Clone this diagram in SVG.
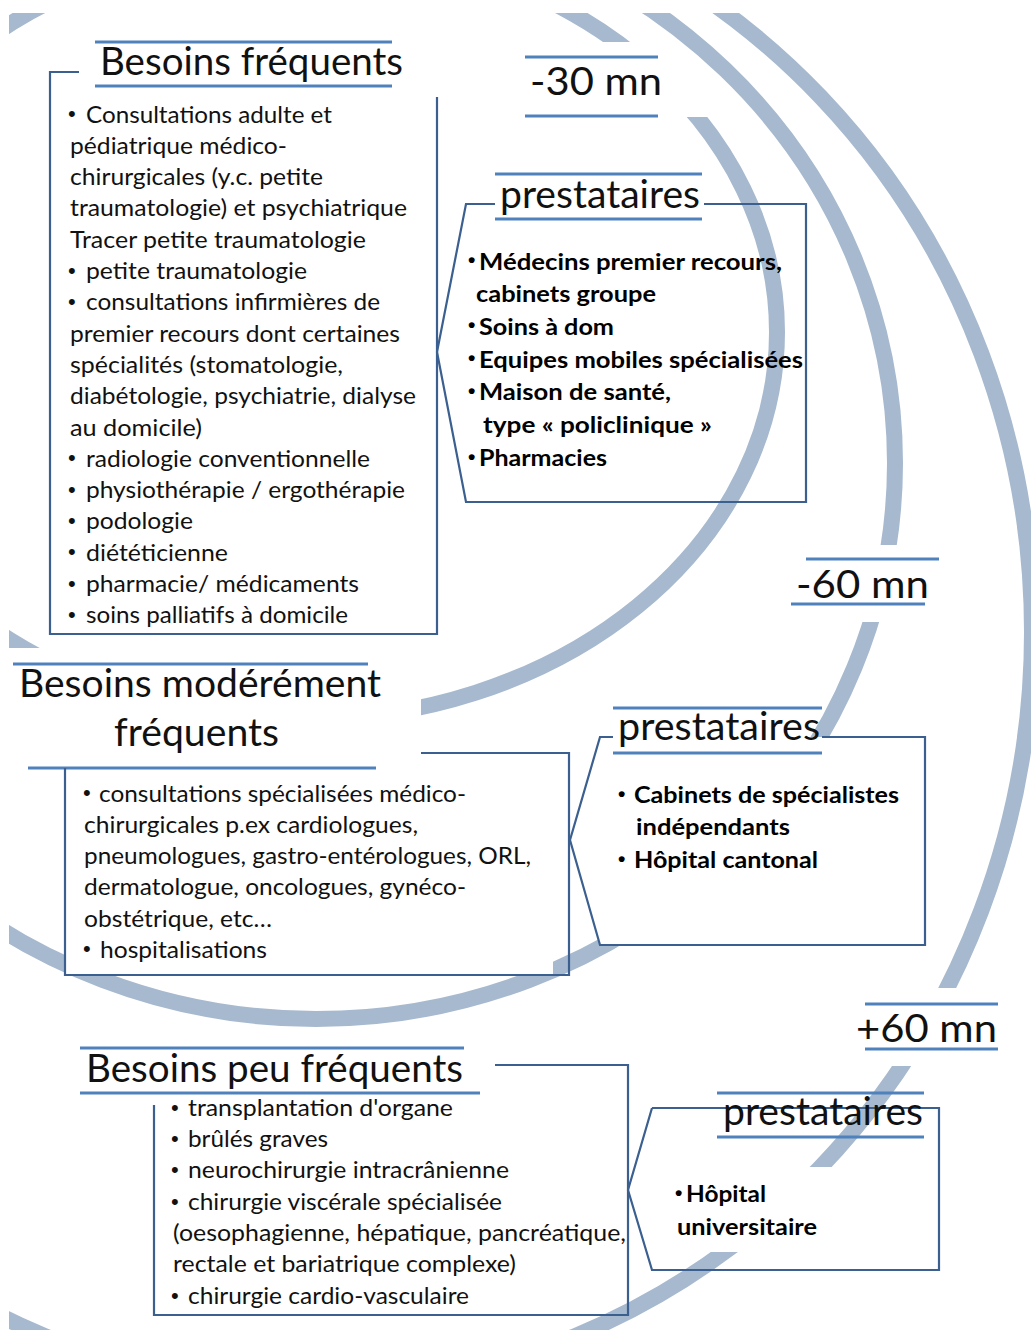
<svg xmlns="http://www.w3.org/2000/svg" width="1031" height="1330" viewBox="0 0 1031 1330">
<style>
.arc{fill:none;stroke:#a7b9cf;stroke-width:16}
.tl{stroke:#4f81bd;stroke-width:3;fill:none}
.bx{fill:none;stroke:#3b5f8f;stroke-width:2.2}
text{font-family:Lato,"Open Sans","Liberation Sans",sans-serif;fill:#111}
.ti{font-size:38px}
.bd{font-size:23.5px}
.bb{font-size:23.5px;font-weight:700;fill:#000}
text.bu{font-family:"Liberation Sans",Arial,sans-serif;font-size:22px}
text.bv{font-family:"Liberation Sans",Arial,sans-serif;font-size:21px;font-weight:700;fill:#000}
</style>
<defs>
<mask id="mA" maskUnits="userSpaceOnUse" x="0" y="0" width="1031" height="1330">
<rect x="9" y="13" width="1022" height="1317" fill="#fff"/>
<rect x="480" y="42" width="250" height="75" fill="#000"/>
<rect x="0" y="648" width="421" height="200" fill="#000"/>
</mask>
<mask id="mB" maskUnits="userSpaceOnUse" x="0" y="0" width="1031" height="1330">
<rect x="9" y="13" width="1022" height="1317" fill="#fff"/>
<rect x="760" y="545" width="271" height="77" fill="#000"/>
<rect x="65" y="753" width="488" height="222" fill="#000"/>
</mask>
<mask id="mC" maskUnits="userSpaceOnUse" x="0" y="0" width="1031" height="1330">
<rect x="9" y="13" width="1022" height="1317" fill="#fff"/>
<rect x="840" y="988" width="191" height="78" fill="#000"/>
<rect x="640" y="1167" width="300" height="85" fill="#000"/>
</mask>
</defs>
<rect width="1031" height="1330" fill="#fff"/>
<g id="rings">
<ellipse class="arc" cx="300" cy="332" rx="477" ry="388" mask="url(#mA)"/>
<ellipse class="arc" cx="316" cy="463" rx="579" ry="556" mask="url(#mB)"/>
<ellipse class="arc" cx="310" cy="632" rx="722" ry="757" mask="url(#mC)"/>
</g>
<g id="connectors"></g>
<g id="besoins-frequents">
<line class="tl" x1="95" y1="42" x2="392" y2="42"/>
<line class="tl" x1="95" y1="86" x2="392" y2="86"/>
<text class="ti" x="100" y="75" textLength="303" lengthAdjust="spacingAndGlyphs">Besoins fréquents</text>
<polyline class="bx" points="437,97 437,634 50,634 50,72 79,72"/>
<text class="bu" x="68" y="121">•</text><text class="bd" x="86" y="122.5" textLength="246" lengthAdjust="spacingAndGlyphs">Consultations adulte et</text>
<text class="bd" x="70" y="153.8" textLength="217" lengthAdjust="spacingAndGlyphs">pédiatrique médico-</text>
<text class="bd" x="70" y="185.1" textLength="253" lengthAdjust="spacingAndGlyphs">chirurgicales (y.c. petite</text>
<text class="bd" x="70" y="216.4" textLength="337" lengthAdjust="spacingAndGlyphs">traumatologie) et psychiatrique</text>
<text class="bd" x="70" y="247.7" textLength="296" lengthAdjust="spacingAndGlyphs">Tracer petite traumatologie</text>
<text class="bu" x="68" y="277.5">•</text><text class="bd" x="86" y="279" textLength="221" lengthAdjust="spacingAndGlyphs">petite traumatologie</text>
<text class="bu" x="68" y="308.8">•</text><text class="bd" x="86" y="310.3" textLength="294" lengthAdjust="spacingAndGlyphs">consultations infirmières de</text>
<text class="bd" x="70" y="341.6" textLength="330" lengthAdjust="spacingAndGlyphs">premier recours dont certaines</text>
<text class="bd" x="70" y="372.9" textLength="273" lengthAdjust="spacingAndGlyphs">spécialités (stomatologie,</text>
<text class="bd" x="70" y="404.2" textLength="346" lengthAdjust="spacingAndGlyphs">diabétologie, psychiatrie, dialyse</text>
<text class="bd" x="70" y="435.5" textLength="132" lengthAdjust="spacingAndGlyphs">au domicile)</text>
<text class="bu" x="68" y="465.3">•</text><text class="bd" x="86" y="466.8" textLength="284" lengthAdjust="spacingAndGlyphs">radiologie conventionnelle</text>
<text class="bu" x="68" y="496.6">•</text><text class="bd" x="86" y="498.1" textLength="319" lengthAdjust="spacingAndGlyphs">physiothérapie / ergothérapie</text>
<text class="bu" x="68" y="527.9">•</text><text class="bd" x="86" y="529.4" textLength="107" lengthAdjust="spacingAndGlyphs">podologie</text>
<text class="bu" x="68" y="559.2">•</text><text class="bd" x="86" y="560.7" textLength="142" lengthAdjust="spacingAndGlyphs">diététicienne</text>
<text class="bu" x="68" y="590.5">•</text><text class="bd" x="86" y="592" textLength="273" lengthAdjust="spacingAndGlyphs">pharmacie/ médicaments</text>
<text class="bu" x="68" y="621.8">•</text><text class="bd" x="86" y="623.3" textLength="262" lengthAdjust="spacingAndGlyphs">soins palliatifs à domicile</text>
</g>
<g id="label-30">
<line class="tl" x1="525" y1="57" x2="658" y2="57"/>
<line class="tl" x1="525" y1="116" x2="658" y2="116"/>
<text class="ti" x="530" y="95" textLength="132" lengthAdjust="spacingAndGlyphs">-30 mn</text>
</g>
<g id="prestataires-1">
<line class="tl" x1="495" y1="174" x2="702" y2="174"/>
<line class="tl" x1="495" y1="219" x2="702" y2="219"/>
<text class="ti" x="500" y="208" textLength="200" lengthAdjust="spacingAndGlyphs">prestataires</text>
<polyline class="bx" points="495,204 466,204 437,352 466,502 806,502 806,204 704,204"/>
<text class="bv" x="468" y="267">•</text><text class="bb" x="479" y="269.5" textLength="303" lengthAdjust="spacingAndGlyphs">Médecins premier recours,</text>
<text class="bb" x="476" y="302" textLength="180" lengthAdjust="spacingAndGlyphs">cabinets groupe</text>
<text class="bv" x="468" y="332">•</text><text class="bb" x="479" y="334.5" textLength="135" lengthAdjust="spacingAndGlyphs">Soins à dom</text>
<text class="bv" x="468" y="365">•</text><text class="bb" x="479" y="367.5" textLength="324" lengthAdjust="spacingAndGlyphs">Equipes mobiles spécialisées</text>
<text class="bv" x="468" y="397.5">•</text><text class="bb" x="479" y="400" textLength="192" lengthAdjust="spacingAndGlyphs">Maison de santé,</text>
<text class="bb" x="483" y="433" textLength="229" lengthAdjust="spacingAndGlyphs">type « policlinique »</text>
<text class="bv" x="468" y="463.5">•</text><text class="bb" x="479" y="466" textLength="128" lengthAdjust="spacingAndGlyphs">Pharmacies</text>
</g>
<g id="label-60">
<line class="tl" x1="806" y1="559" x2="939" y2="559"/>
<line class="tl" x1="791" y1="604" x2="925" y2="604"/>
<text class="ti" x="796" y="598" textLength="133" lengthAdjust="spacingAndGlyphs">-60 mn</text>
</g>
<g id="besoins-moderement">
<line class="tl" x1="13" y1="664" x2="368" y2="664"/>
<line class="tl" x1="28" y1="768" x2="376" y2="768"/>
<text class="ti" x="19" y="697" textLength="362" lengthAdjust="spacingAndGlyphs">Besoins modérément</text>
<text class="ti" x="114" y="746" textLength="165" lengthAdjust="spacingAndGlyphs">fréquents</text>
<polyline class="bx" points="421,753 569,753 569,975 65,975 65,768"/>
<text class="bu" x="83" y="800.2">•</text><text class="bd" x="99" y="801.7" textLength="367" lengthAdjust="spacingAndGlyphs">consultations spécialisées médico-</text>
<text class="bd" x="84" y="832.9" textLength="334" lengthAdjust="spacingAndGlyphs">chirurgicales p.ex cardiologues,</text>
<text class="bd" x="84" y="864.1" textLength="447" lengthAdjust="spacingAndGlyphs">pneumologues, gastro-entérologues, ORL,</text>
<text class="bd" x="84" y="895.3" textLength="382" lengthAdjust="spacingAndGlyphs">dermatologue, oncologues, gynéco-</text>
<text class="bd" x="84" y="926.5" textLength="188" lengthAdjust="spacingAndGlyphs">obstétrique, etc…</text>
<text class="bu" x="83" y="956.2">•</text><text class="bd" x="100" y="957.7" textLength="167" lengthAdjust="spacingAndGlyphs">hospitalisations</text>
</g>
<g id="prestataires-2">
<polygon points="600,737 925,737 925,945 600,945 570,840" fill="#fff"/>
<line class="tl" x1="613" y1="708" x2="822" y2="708"/>
<line class="tl" x1="613" y1="753" x2="822" y2="753"/>
<text class="ti" x="618" y="740" textLength="202" lengthAdjust="spacingAndGlyphs">prestataires</text>
<polyline class="bx" points="613,737 600,737 570,840 600,945 925,945 925,737 822,737"/>
<text class="bv" x="618" y="800.5">•</text><text class="bb" x="634" y="803" textLength="265" lengthAdjust="spacingAndGlyphs">Cabinets de spécialistes</text>
<text class="bb" x="636" y="835" textLength="154" lengthAdjust="spacingAndGlyphs">indépendants</text>
<text class="bv" x="618" y="865.5">•</text><text class="bb" x="634" y="868" textLength="184" lengthAdjust="spacingAndGlyphs">Hôpital cantonal</text>
</g>
<g id="label-plus60">
<line class="tl" x1="865" y1="1004" x2="998" y2="1004"/>
<line class="tl" x1="865" y1="1049" x2="998" y2="1049"/>
<text class="ti" x="856" y="1042" textLength="141" lengthAdjust="spacingAndGlyphs">+60 mn</text>
</g>
<g id="prestataires-3">
<polyline class="bx" points="652,1108 939,1108 939,1270 652,1270 628,1190 652,1108"/>
<line class="tl" x1="717" y1="1093" x2="924" y2="1093"/>
<line class="tl" x1="717" y1="1137" x2="924" y2="1137"/>
<text class="ti" x="723" y="1125" textLength="200" lengthAdjust="spacingAndGlyphs">prestataires</text>
<text class="bv" x="675" y="1199.5">•</text><text class="bb" x="686" y="1202" textLength="80" lengthAdjust="spacingAndGlyphs">Hôpital</text>
<text class="bb" x="677" y="1235" textLength="140" lengthAdjust="spacingAndGlyphs">universitaire</text>
</g>
<g id="besoins-peu-frequents">
<line class="tl" x1="80" y1="1048" x2="464" y2="1048"/>
<line class="tl" x1="80" y1="1093" x2="480" y2="1093"/>
<text class="ti" x="86" y="1082" textLength="377" lengthAdjust="spacingAndGlyphs">Besoins peu fréquents</text>
<polyline class="bx" points="495,1065 628,1065 628,1315 154,1315 154,1105"/>
<text class="bu" x="171" y="1114.5">•</text><text class="bd" x="188" y="1116" textLength="265" lengthAdjust="spacingAndGlyphs">transplantation d'organe</text>
<text class="bu" x="171" y="1145.5">•</text><text class="bd" x="188" y="1147" textLength="140" lengthAdjust="spacingAndGlyphs">brûlés graves</text>
<text class="bu" x="171" y="1176.5">•</text><text class="bd" x="188" y="1178" textLength="321" lengthAdjust="spacingAndGlyphs">neurochirurgie intracrânienne</text>
<text class="bu" x="171" y="1208.5">•</text><text class="bd" x="188" y="1210" textLength="314" lengthAdjust="spacingAndGlyphs">chirurgie viscérale spécialisée</text>
<text class="bd" x="173" y="1241" textLength="453" lengthAdjust="spacingAndGlyphs">(oesophagienne, hépatique, pancréatique,</text>
<text class="bd" x="173" y="1272" textLength="343" lengthAdjust="spacingAndGlyphs">rectale et bariatrique complexe)</text>
<text class="bu" x="171" y="1302.5">•</text><text class="bd" x="188" y="1304" textLength="281" lengthAdjust="spacingAndGlyphs">chirurgie cardio-vasculaire</text>
</g>
</svg>
